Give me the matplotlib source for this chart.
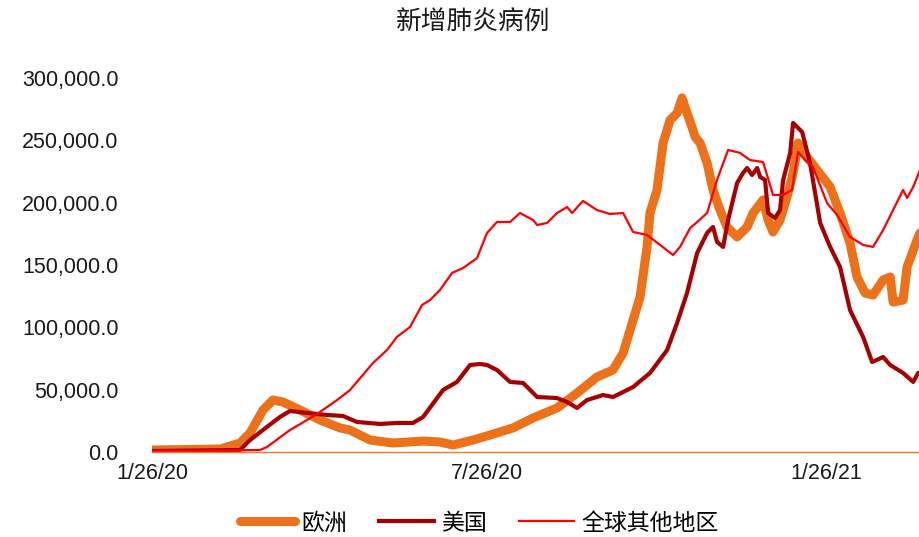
import pandas as pd
import numpy as np
import matplotlib
matplotlib.use("Agg")
import matplotlib.pyplot as plt
import matplotlib.ticker as mticker

plt.rcParams['font.family'] = ['Noto Sans CJK SC', 'DejaVu Sans']

start = pd.Timestamp('2020-01-26')

# days after 1/26/20, values in thousands of cases (7-day avg)
eu_days = [0, 37, 47.8, 53.2, 60.3, 65.7, 71.1, 80.4, 91.2, 102.1, 107.5, 118.4, 130.9, 147.2,
           156.4, 163.5, 174.3, 183.5, 196, 206.9, 219.9, 230.8, 241.6, 250.3, 255.8, 259.6, 265,
           268.8, 270.4, 274.2, 277.5, 281.3, 285.1, 287.8, 290.5, 293.2, 294.9, 297.6, 301.4,
           304.6, 308.4, 312.2, 317.7, 323.1, 326.4, 331.8, 334.5, 337.2, 341, 344.8, 348.1,
           350.8, 355.7, 361.1, 368.2, 373.6, 379, 382.8, 387.2, 391.5, 397, 400.8, 402.4,
           407.8, 410, 415.4, 417]
eu_vals = [1.6, 2.4, 7.2, 15.2, 33.7, 41.7, 40.1, 33.7, 25.7, 19.3, 17.6, 9.6, 7.2, 8.8,
           8.0, 5.6, 9.6, 13.6, 19.3, 27.3, 35.3, 47.3, 60.2, 65.8, 79.4, 97.9, 124.3,
           164.5, 191.7, 210.2, 247.9, 266.3, 271.9, 284, 271.9, 260.7, 252.7, 247.9, 231.8,
           210.2, 194.1, 180.5, 172.5, 180.5, 191.7, 202.2, 186.1, 176.5, 186.1, 204.6, 223.8,
           247.9, 236.6, 226.2, 212.6, 191.7, 167.7, 140.4, 127.5, 125.9, 138, 140.4, 120.3,
           121.9, 148.4, 170.1, 175.7]

us_days = [0, 47.8, 53.2, 62.4, 69.5, 74.9, 84.2, 95, 103.7, 111.3, 123.8, 133, 141.7, 147.2,
           158, 165.6, 172.7, 178.1, 181.9, 187.3, 194.4, 201.5, 209.1, 219.9, 225.4, 230.8,
           236.2, 244.9, 250.3, 261.2, 270.4, 279.7, 285.1, 290.5, 296, 301.4, 304.6, 306.8,
           310.1, 312.8, 317.7, 320.9, 323.1, 325.8, 328.6, 330.2, 332.9, 334.5, 338.3, 341,
           342.7, 346.5, 348.1, 353, 357.3, 362.8, 368.2, 373.6, 379, 386.1, 391, 397, 400.8,
           407.8, 413.3, 416, 417]
us_vals = [0.8, 1.6, 9.6, 20.1, 28.1, 32.9, 31.3, 29.7, 28.9, 24.1, 22.5, 23.3, 23.3, 28.1,
           49.7, 56.2, 69.8, 70.6, 69.8, 65.8, 56.2, 55.4, 44.1, 43.3, 40.1, 35.3,
           41.7, 45.7, 44.1, 52.1, 63.4, 81.8, 103.5, 127.5, 159.6, 175.7, 180.5, 168.5,
           164.5, 186.1, 215.8, 223.8, 227.8, 222.2, 227.8, 220.6, 218.2, 191.7, 187.7, 194.1,
           218.2, 239.9, 263.9, 256.7, 231.8, 183.7, 164.5, 148.4, 113.9, 92.3, 72.2, 76.2, 69.8,
           63.4, 56.2, 63.4, 63.4]

row_days = [0, 58.6, 62.4, 74.9, 84.2, 91.2, 100.5, 107.5, 120, 127.6, 133, 140.1, 146.6, 151,
            156.4, 162.9, 168.9, 176.5, 181.9, 187.3, 194.4, 199.8, 206.9, 209.1, 214.5, 219.9,
            225.4, 228.1, 234, 241.6, 248.7, 255.8, 261.2, 268.8, 275.9, 282.9, 286.7, 292.2,
            296, 301.4, 306.8, 312.8, 319.3, 324.7, 331.8, 337.2, 342.7, 347.5, 350.8, 354.6,
            358.9, 366.5, 372, 379, 386.1, 391.5, 397, 402.4, 407.8, 410, 413.3, 417]
row_vals = [0.8, 1.6, 4.0, 17.6, 25.7, 32.1, 41.7, 49.7, 71.4, 81.8, 92.3, 100.3, 117.9, 121.9,
            130, 143.6, 147.6, 155.6, 175.7, 184.5, 184.5, 191.7, 186.1, 182.1, 183.7, 191.7,
            196.5, 191.7, 201.4, 194.1, 190.9, 191.7, 176.5, 174.1, 166.1, 158, 164.5, 179.7,
            184.5, 191.7, 218.2, 242.3, 239.9, 234.2, 232.6, 206.2, 206.2, 210.2, 240.7, 234.2,
            228.6, 199.7, 190.1, 172.5, 166.1, 164.5, 178.1, 194.1, 210.2, 203.8, 212.6, 226.2]

labels = ['欧洲', '美国', '全球其他地区']
tick_dates = ['2020-01-26', '2020-07-26', '2021-01-26']
tick_labels = ['1/26/20', '7/26/20', '1/26/21']


def to_dates(days):
    return start + pd.to_timedelta(np.array(days), unit='D')


fig = plt.figure(figsize=(9.2, 5.37), dpi=100)
ax = fig.add_axes([152 / 920, 85 / 537, 768 / 920, 374 / 537])

ax.plot(to_dates(eu_days), np.array(eu_vals) * 1000, color='#EC7118', lw=6.5,
        solid_capstyle='round', label=labels[0])
ax.plot(to_dates(us_days), np.array(us_vals) * 1000, color='#A80000', lw=3,
        label=labels[1])
ax.plot(to_dates(row_days), np.array(row_vals) * 1000, color='#FF0000', lw=1.6,
        label=labels[2])

ax.set_xlim(start, start + pd.Timedelta(days=417))
ax.set_ylim(0, 300000)
ax.yaxis.set_major_locator(mticker.MultipleLocator(50000))
ax.yaxis.set_major_formatter(mticker.FuncFormatter(lambda v, p: f'{v:,.1f}'))
ax.set_xticks(pd.to_datetime(tick_dates))
ax.set_xticklabels(tick_labels)

for s in ['top', 'right', 'left']:
    ax.spines[s].set_visible(False)
ax.spines['bottom'].set_color('#ED7D31')
ax.spines['bottom'].set_linewidth(1)
ax.tick_params(axis='both', length=0)
ax.tick_params(axis='y', pad=24)
ax.tick_params(axis='x', pad=8)
for t in ax.get_yticklabels() + ax.get_xticklabels():
    t.set_fontfamily(['Liberation Sans', 'DejaVu Sans'])
    t.set_fontsize(15.5)
    t.set_color('#1a1a1a')

fig.text(473 / 920, 1 - 23 / 537, '新增肺炎病例', ha='center', va='center',
         fontsize=18.5, color='#1a1a1a')

fig.legend(loc='center', bbox_to_anchor=(479 / 920, 14 / 537), ncol=3, frameon=False,
           fontsize=16.5, handlelength=2.4, handletextpad=0.3, columnspacing=1.4)

fig.savefig('out.png', dpi=100)
